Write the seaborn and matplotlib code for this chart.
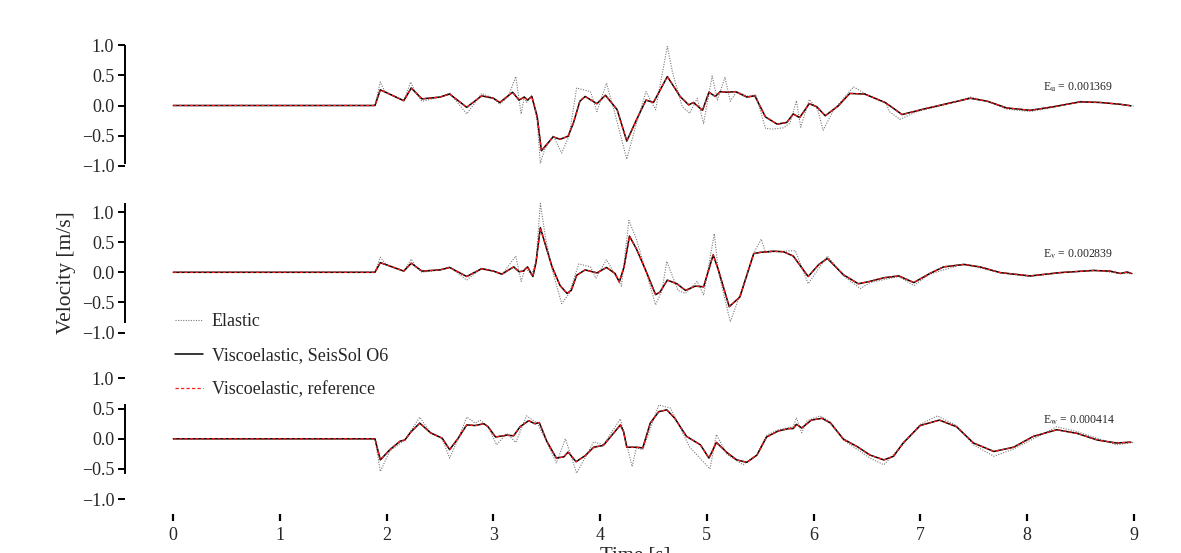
import matplotlib

matplotlib.use("Agg")

import matplotlib.pyplot as plt
import numpy as np
import seaborn as sns

# ---------------------------------------------------------------------------
# Data (time [s], velocity [m/s])
# ---------------------------------------------------------------------------
t_visco_u = [0.0, 1.89, 1.94, 2.16, 2.23, 2.33, 2.5, 2.59, 2.75, 2.89, 3.0, 3.06,
             3.18, 3.24, 3.29, 3.32, 3.36, 3.41, 3.45, 3.56, 3.625, 3.70, 3.75,
             3.81, 3.86, 3.97, 4.05, 4.16, 4.25, 4.34, 4.43, 4.5, 4.63, 4.75,
             4.83, 4.875, 4.96, 5.02, 5.08, 5.125, 5.19, 5.27, 5.375, 5.45,
             5.55, 5.66, 5.75, 5.81, 5.87, 5.96, 6.03, 6.11, 6.23, 6.34, 6.48,
             6.67, 6.72, 6.83, 7.03, 7.25, 7.47, 7.63, 7.81, 8.03, 8.25, 8.5,
             8.69, 8.875, 8.975]
v_visco_u = [0.0, 0.0, 0.26, 0.08, 0.29, 0.11, 0.14, 0.19, -0.03, 0.16, 0.12, 0.05,
             0.22, 0.09, 0.14, 0.09, 0.15, -0.18, -0.75, -0.52, -0.56, -0.51, -0.29,
             0.07, 0.15, 0.03, 0.17, -0.07, -0.59, -0.24, 0.09, 0.05, 0.48, 0.15,
             0.01, 0.05, -0.08, 0.22, 0.15, 0.23, 0.22, 0.23, 0.14, 0.16,
             -0.19, -0.31, -0.28, -0.14, -0.20, 0.03, -0.02, -0.17, -0.01, 0.20, 0.19,
             0.05, -0.01, -0.15, -0.06, 0.03, 0.12, 0.07, -0.04, -0.08, -0.02, 0.06,
             0.05, 0.02, -0.005]

t_elastic_u = [0.0, 1.89, 1.94, 1.98, 2.16, 2.225, 2.26, 2.33, 2.5, 2.59, 2.75, 2.89,
               3.0, 3.06, 3.14, 3.21, 3.26, 3.29, 3.31, 3.36, 3.41, 3.44, 3.48, 3.56,
               3.64, 3.71, 3.78, 3.91, 3.97, 4.06, 4.125, 4.25, 4.34, 4.43, 4.52,
               4.63, 4.68, 4.77, 4.84, 4.91, 4.97, 5.05, 5.10, 5.17, 5.22, 5.28,
               5.39, 5.46, 5.55, 5.62, 5.72, 5.78, 5.84, 5.88, 5.96, 6.04, 6.09,
               6.19, 6.375, 6.5, 6.68, 6.71, 6.81, 6.97, 7.25, 7.47, 7.63, 7.81,
               8.03, 8.25, 8.5, 8.69, 8.875, 9.0]
v_elastic_u = [0.0, 0.0, 0.39, 0.24, 0.07, 0.39, 0.25, 0.07, 0.14, 0.21, -0.14, 0.20,
               0.12, 0.02, 0.15, 0.48, -0.14, 0.15, 0.05, 0.17, -0.25, -0.96, -0.73, -0.50,
               -0.79, -0.50, 0.29, 0.23, -0.10, 0.37, -0.04, -0.89, -0.30, 0.23, -0.07,
               0.98, 0.54, -0.02, -0.13, 0.12, -0.30, 0.49, 0.09, 0.47, 0.07, 0.23,
               0.15, 0.18, -0.38, -0.39, -0.37, -0.29, 0.08, -0.36, 0.10, -0.07, -0.41,
               -0.07, 0.31, 0.18, 0.05, -0.10, -0.23, -0.10, 0.02, 0.14, 0.07, -0.06,
               -0.10, -0.03, 0.07, 0.05, 0.02, -0.01]

t_visco_v = [0.0, 1.89, 1.94, 2.16, 2.23, 2.33, 2.5, 2.59, 2.75, 2.89, 3.0, 3.08,
             3.19, 3.24, 3.28, 3.32, 3.37, 3.40, 3.44, 3.48, 3.55, 3.625, 3.69,
             3.73, 3.78, 3.86, 3.97, 4.06, 4.14, 4.18, 4.225, 4.275, 4.34, 4.44,
             4.52, 4.56, 4.63, 4.72, 4.80, 4.89, 4.97, 5.06, 5.11, 5.21, 5.31,
             5.44, 5.5, 5.625, 5.72, 5.81, 5.95, 6.05, 6.13, 6.28, 6.42, 6.53,
             6.66, 6.80, 6.94, 7.09, 7.22, 7.41, 7.56, 7.75, 8.03, 8.31, 8.625,
             8.78, 8.875, 8.94, 8.98]
v_visco_v = [0.0, 0.0, 0.16, 0.02, 0.15, 0.02, 0.04, 0.08, -0.07, 0.06, 0.02, -0.03,
             0.09, 0.01, 0.02, 0.09, -0.07, 0.17, 0.74, 0.50, 0.09, -0.22, -0.35,
             -0.30, -0.05, 0.04, -0.01, 0.08, -0.02, -0.16, 0.09, 0.60, 0.39, -0.02,
             -0.37, -0.33, -0.13, -0.19, -0.30, -0.23, -0.24, 0.29, 0.03, -0.57, -0.41,
             0.31, 0.33, 0.35, 0.34, 0.27, -0.07, 0.13, 0.23, -0.04, -0.19, -0.15,
             -0.09, -0.06, -0.17, -0.02, 0.09, 0.13, 0.09, -0.005, -0.06, -0.005, 0.03,
             0.02, -0.02, 0.005, -0.02]

t_elastic_v = [0.0, 1.89, 1.94, 1.99, 2.16, 2.23, 2.27, 2.33, 2.5, 2.59, 2.75, 2.89,
               3.0, 3.08, 3.21, 3.26, 3.30, 3.36, 3.40, 3.44, 3.49, 3.55, 3.64, 3.71,
               3.80, 3.91, 3.96, 4.06, 4.14, 4.20, 4.27, 4.34, 4.44, 4.52, 4.58,
               4.625, 4.73, 4.80, 4.91, 4.97, 5.07, 5.11, 5.22, 5.31, 5.44, 5.51,
               5.55, 5.72, 5.83, 5.95, 6.13, 6.28, 6.44, 6.53, 6.80, 6.94, 7.09,
               7.41, 7.75, 8.03, 8.31, 8.625, 8.875, 9.0]
v_elastic_v = [0.0, 0.0, 0.25, 0.14, 0.02, 0.22, 0.10, 0.0, 0.04, 0.09, -0.13, 0.07,
               0.02, -0.04, 0.27, -0.15, 0.08, -0.05, 0.20, 1.14, 0.56, 0.05, -0.52, -0.35,
               0.14, 0.09, -0.10, 0.21, -0.04, -0.23, 0.86, 0.55, -0.05, -0.54, -0.30,
               0.18, -0.30, -0.35, -0.15, -0.38, 0.64, 0.0, -0.82, -0.38, 0.32, 0.55,
               0.33, 0.35, 0.36, -0.19, 0.27, -0.06, -0.27, -0.17, -0.07, -0.22, -0.03,
               0.14, -0.01, -0.07, -0.01, 0.04, -0.02, -0.02]

t_visco_w = [0.0, 1.89, 1.94, 2.03, 2.125, 2.17, 2.23, 2.31, 2.41, 2.52, 2.59, 2.67,
             2.75, 2.83, 2.91, 2.95, 3.02, 3.125, 3.19, 3.25, 3.33, 3.39, 3.43,
             3.5, 3.59, 3.66, 3.70, 3.775, 3.86, 3.94, 4.03, 4.125, 4.19, 4.22,
             4.25, 4.34, 4.40, 4.47, 4.55, 4.625, 4.70, 4.81, 4.94, 5.02, 5.09,
             5.19, 5.28, 5.375, 5.47, 5.56, 5.67, 5.77, 5.81, 5.84, 5.89, 5.98,
             6.08, 6.16, 6.28, 6.41, 6.53, 6.66, 6.75, 6.84, 7.0, 7.18, 7.34,
             7.5, 7.69, 7.875, 8.06, 8.28, 8.47, 8.66, 8.84, 8.975]
v_visco_w = [0.0, 0.0, -0.35, -0.18, -0.04, -0.02, 0.12, 0.26, 0.10, 0.01, -0.18, 0.01,
             0.23, 0.22, 0.25, 0.20, 0.03, 0.06, 0.05, 0.20, 0.30, 0.25, 0.27,
             -0.04, -0.32, -0.30, -0.22, -0.38, -0.28, -0.14, -0.11, 0.09, 0.23, 0.12,
             -0.14, -0.14, -0.15, 0.26, 0.45, 0.48, 0.34, 0.04, -0.10, -0.32, -0.06,
             -0.23, -0.35, -0.39, -0.27, 0.03, 0.13, 0.17, 0.17, 0.24, 0.18, 0.31,
             0.34, 0.26, -0.005, -0.13, -0.27, -0.35, -0.29, -0.07, 0.22, 0.31, 0.20,
             -0.07, -0.21, -0.14, 0.04, 0.15, 0.09, -0.02, -0.07, -0.055]

t_elastic_w = [0.0, 1.89, 1.94, 2.03, 2.17, 2.31, 2.41, 2.52, 2.59, 2.67, 2.75, 2.83,
               2.875, 2.95, 3.03, 3.125, 3.21, 3.31, 3.41, 3.5, 3.59, 3.675, 3.78,
               3.94, 4.03, 4.19, 4.25, 4.30, 4.34, 4.40, 4.55, 4.66, 4.84, 5.03,
               5.09, 5.19, 5.34, 5.47, 5.56, 5.67, 5.81, 5.84, 5.89, 5.94, 6.06,
               6.16, 6.28, 6.53, 6.66, 6.84, 7.0, 7.16, 7.34, 7.5, 7.69, 7.875,
               8.28, 8.47, 8.84, 9.0]
v_elastic_w = [0.0, 0.0, -0.54, -0.20, -0.02, 0.36, 0.10, 0.0, -0.32, 0.0, 0.36, 0.26,
               0.31, 0.20, -0.10, 0.09, -0.06, 0.38, 0.26, -0.05, -0.40, 0.0, -0.57,
               -0.05, -0.10, 0.33, -0.10, -0.46, -0.15, -0.18, 0.56, 0.51, -0.14, -0.50,
               0.07, -0.26, -0.43, -0.27, 0.06, 0.15, 0.20, 0.35, 0.10, 0.30, 0.38,
               0.28, -0.02, -0.32, -0.43, -0.09, 0.24, 0.38, 0.22, -0.10, -0.29, -0.17,
               0.20, 0.12, -0.10, -0.06]

misfit_labels = [r"E$_\mathrm{u}$ = 0.001369",
                 r"E$_\mathrm{v}$ = 0.002839",
                 r"E$_\mathrm{w}$ = 0.000414"]
y_ticks = [-1.0, -0.5, 0.0, 0.5, 1.0]
x_ticks = list(range(10))

panels = [
    (t_elastic_u, v_elastic_u, t_visco_u, v_visco_u),
    (t_elastic_v, v_elastic_v, t_visco_v, v_visco_v),
    (t_elastic_w, v_elastic_w, t_visco_w, v_visco_w),
]

# ---------------------------------------------------------------------------
# Styling
# ---------------------------------------------------------------------------
sns.set_theme(style="ticks")
plt.rcParams["font.family"] = ["Liberation Serif", "DejaVu Serif"]
plt.rcParams["mathtext.fontset"] = "stix"

W, H = 1181, 553
fig = plt.figure(figsize=(W / 100, H / 100), dpi=100)

zero_px = [105.5, 272.3, 438.8]   # pixel row of v = 0 in each panel
px_per_unit = 60.3
ylim = (-1.25, 1.25)
xlim = (-0.45, 9.1)
px_per_sec = 106.7
left_px = 173.3 + xlim[0] * px_per_sec
half_h = ylim[1] * px_per_unit

axes = []
for i, (te, ve, tv, vv) in enumerate(panels):
    bottom = 1 - (zero_px[i] + half_h) / H
    ax = fig.add_axes([left_px / W, bottom,
                       (xlim[1] - xlim[0]) * px_per_sec / W, 2 * half_h / H])
    sns.lineplot(x=te, y=ve, ax=ax, color="#7a7a7a", linestyle=(0, (1, 1.3)),
                 linewidth=0.8, label="Elastic", sort=False)
    sns.lineplot(x=tv, y=vv, ax=ax, color="black", linewidth=1.1,
                 label="Viscoelastic, SeisSol O6", sort=False)
    sns.lineplot(x=tv, y=vv, ax=ax, color="#ff1a1a", linestyle=(0, (2.6, 1.8)),
                 linewidth=0.9, label="Viscoelastic, reference", sort=False)
    ax.set_xlim(*xlim)
    ax.set_ylim(*ylim)
    ax.set_yticks(y_ticks)
    ax.set_yticklabels([f"{v:.1f}".replace("-", "\u2212") for v in y_ticks])
    ax.tick_params(axis="y", labelsize=13, length=5, width=1.4, pad=3,
                   direction="out", color="black")
    for s in ["top", "right", "bottom"]:
        ax.spines[s].set_visible(False)
    allv = np.concatenate([ve, vv])
    ax.spines["left"].set_bounds(allv.min(), allv.max())
    ax.spines["left"].set_linewidth(1.4)
    ax.spines["left"].set_color("black")
    ax.text(8.15, 0.30, misfit_labels[i], fontsize=8.5, ha="left", va="center")
    ax.set_ylabel("")
    if i < 2:
        ax.set_xticks([])
        ax.set_xlabel("")
    else:
        ax.set_xticks(x_ticks)
        ax.tick_params(axis="x", labelsize=13, length=5, width=1.6, pad=4,
                       color="black")
        ax.set_xlabel("Time [s]", fontsize=15, labelpad=2)
    ax.get_legend().remove()
    axes.append(ax)

fig.text(67 / W, 1 - 273 / H, "Velocity [m/s]", rotation=90, fontsize=15.5,
         ha="center", va="center")

handles, labels = axes[1].get_legend_handles_labels()
fig.legend(handles, labels, loc="center left",
           bbox_to_anchor=(175 / W, 1 - 355.5 / H), frameon=False,
           fontsize=13, handlelength=1.55, handletextpad=0.5,
           labelspacing=0.95, borderpad=0, borderaxespad=0)

fig.savefig("out.png", dpi=100)
plt.close(fig)
